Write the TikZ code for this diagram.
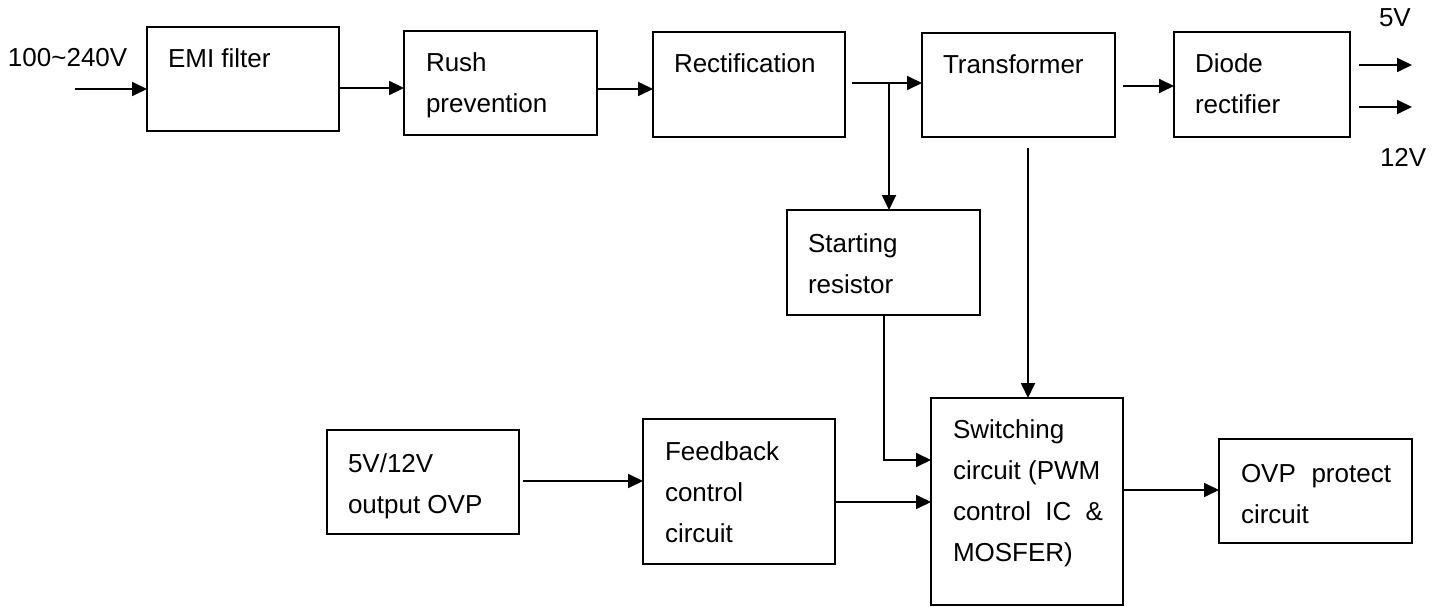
\documentclass[tikz,border=0pt]{standalone}
\usepackage{fontspec}
\setmainfont{Liberation Sans}
\usetikzlibrary{arrows.meta}
\begin{document}
\begin{tikzpicture}[x=1pt,y=-1pt,
  box/.style={draw, line width=1.8pt, inner sep=0pt, outer sep=0pt},
  txt/.style={anchor=north west, align=left, inner sep=0pt, outer sep=0pt, font=\fontsize{26}{41}\selectfont},
  arr/.style={line width=1.8pt, -{Triangle[length=15pt,width=14pt]}},
  ln/.style={line width=1.8pt}]
\useasboundingbox (0,0) rectangle (1446,607);
% boxes
\node[box, minimum width=192pt, minimum height=104pt] (emi)    at (243,79) {};
\node[box, minimum width=193pt, minimum height=104pt] (rush)   at (500.5,83) {};
\node[box, minimum width=192pt, minimum height=105pt] (rect)   at (749,84.5) {};
\node[box, minimum width=193pt, minimum height=104pt] (trans)  at (1018.5,85) {};
\node[box, minimum width=176pt, minimum height=105pt] (diode)  at (1262,84.5) {};
\node[box, minimum width=193pt, minimum height=105pt] (start)  at (883.5,262.5) {};
\node[box, minimum width=192pt, minimum height=207pt] (sw)     at (1027,501.5) {};
\node[box, minimum width=192pt, minimum height=104pt] (ovpout) at (423,482) {};
\node[box, minimum width=192pt, minimum height=145pt] (fb)     at (739,491.5) {};
\node[box, minimum width=193pt, minimum height=104pt] (ovp)    at (1315.5,491) {};
% texts
\node[txt] (tin)    at (8,38.3)    {\strut 100\textasciitilde 240V};
\node[txt] (temi)   at (168,39.3)  {\strut EMI filter};
\node[txt] (trush)  at (426,43.3)  {\strut Rush\\\strut prevention};
\node[txt] (trect)  at (674,44.3)  {\strut Rectification};
\node[txt] (ttrans) at (943,45.3)  {\strut Transformer};
\node[txt] (tdiode) at (1195,44.3) {\strut Diode\\\strut rectifier};
\node[txt] (tfive)  at (1379,-1.7) {\strut 5V};
\node[txt] (ttwelve) at (1380,138.3) {\strut 12V};
\node[txt] (tstart) at (808,223.3) {\strut Starting\\\strut resistor};
\node[txt] (tsw)    at (953,409.3) {\strut Switching\\\strut circuit (PWM\\\strut\hbox to 150pt{control\hfil IC\hfil\&}\\\strut MOSFER)};
\node[txt] (tovpout) at (348,443.3) {\strut 5V/12V\\\strut output OVP};
\node[txt] (tfb)    at (665,431.3) {\strut Feedback\\\strut control\\\strut circuit};
\node[txt] (tovp)   at (1241,453.3) {\strut\hbox to 150pt{OVP\hfil protect}\\\strut circuit};
% coordinates
\coordinate (in) at (75,89);
\coordinate (j) at (889,83);
\coordinate (o5s) at (1359,65);
\coordinate (o5) at (1412,65);
\coordinate (o12s) at (1359,107);
\coordinate (o12) at (1412,107);
\coordinate (tb) at (1028,148);
\coordinate (sb) at (884,315);
% connectors
\draw[arr] (in) -- (emi.west |- in);
\draw[arr] (emi.east |- 0,88) -- (rush.west |- 0,88);
\draw[arr] (rush.east |- 0,89) -- (rect.west |- 0,89);
\draw[arr] ([xshift=7pt]rect.east |- j) -- (trans.west |- j);
\draw[arr] (j) -- (start.north -| j);
\draw[arr] ([xshift=8pt]trans.east |- 0,86) -- (diode.west |- 0,86);
\draw[arr] (o5s) -- (o5);
\draw[arr] (o12s) -- (o12);
\draw[arr] (tb) -- (sw.north -| tb);
\draw[arr] (sb) |- (sw.west |- 0,460);
\draw[arr] ([xshift=4pt]ovpout.east |- 0,481) -- (fb.west |- 0,481);
\draw[arr] (fb.east |- 0,502) -- (sw.west |- 0,502);
\draw[arr] (sw.east |- 0,490) -- (ovp.west |- 0,490);
\end{tikzpicture}
\end{document}
